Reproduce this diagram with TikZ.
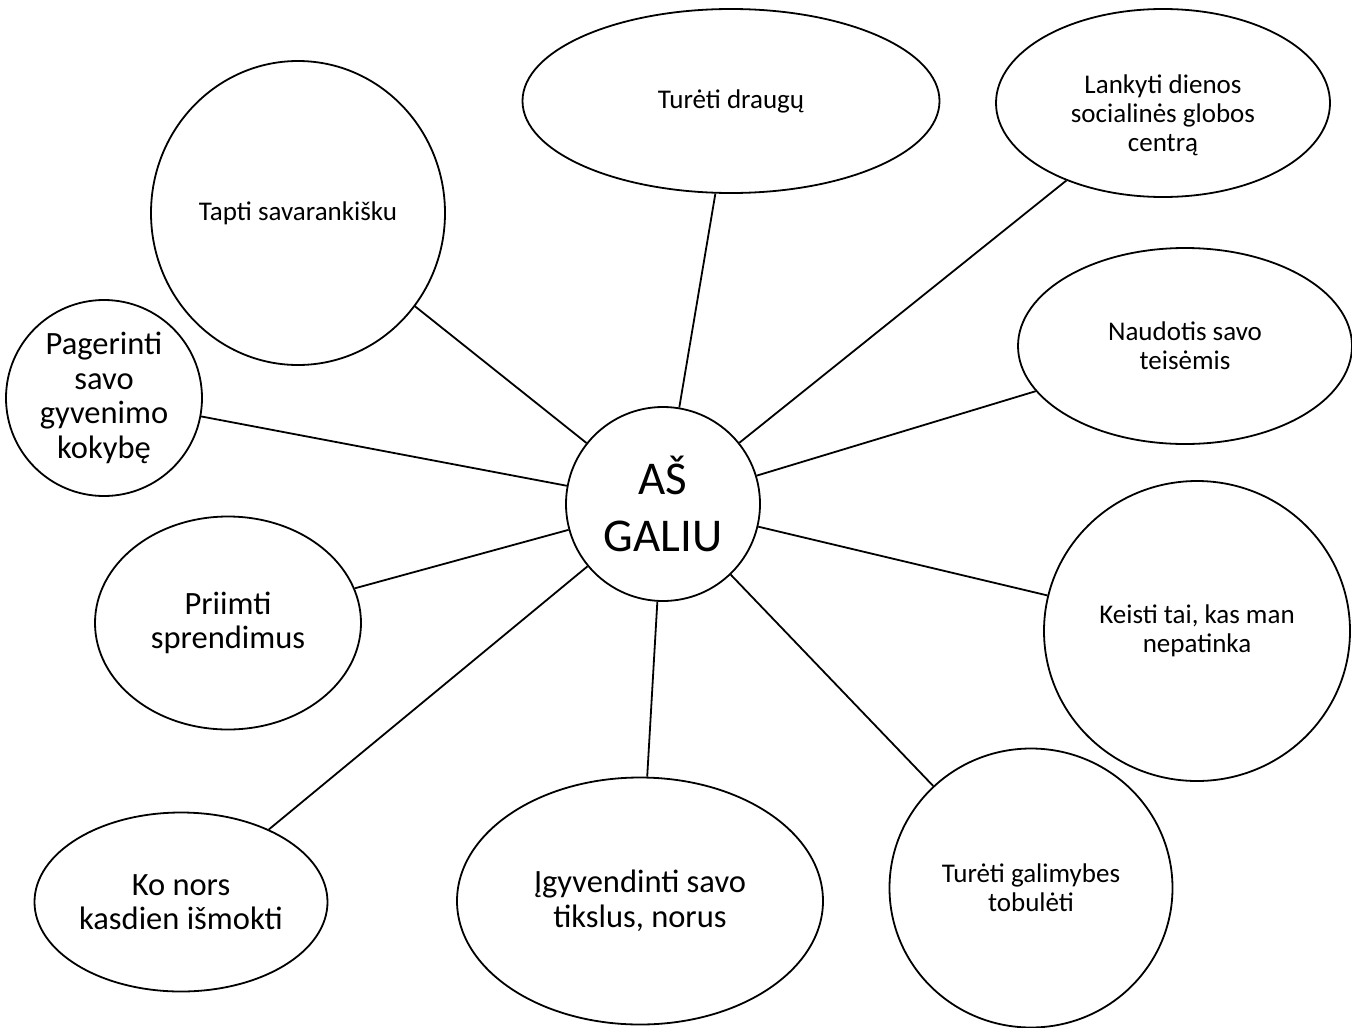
\documentclass[tikz,border=0pt]{standalone}
\usepackage{fontspec}
\setmainfont{Carlito}
\usetikzlibrary{shapes.geometric}

\tikzset{
  bub/.style={draw, ellipse, line width=1.8pt, inner sep=0pt, align=center},
  smalltxt/.style={font=\fontsize{27}{29}\selectfont},
  bigtxt/.style={font=\fontsize{32.5}{34.5}\selectfont},
  link/.style={line width=1.8pt}
}

\begin{document}
\begin{tikzpicture}[x=1pt, y=-1pt]
  \useasboundingbox (0,0) rectangle (1352,1028);

  % centras
  \node[bub, minimum size=194pt, font=\fontsize{47}{57}\selectfont] (as) at (663,504) {AŠ\\GALIU};

  % aplinkiniai burbulai
  \node[bub, smalltxt, minimum width=417pt, minimum height=184pt] (draugai) at (731,101) {Turėti draugų};
  \node[bub, minimum width=334pt, minimum height=188pt] (centras) at (1163,103) {};
  \node[smalltxt, align=center] (centrastxt) at (1163,115) {Lankyti dienos\\socialinės globos\\centrą};
  \node[bub, smalltxt, minimum width=294pt, minimum height=304pt] (savarank) at (298,213) {Tapti savarankišku};
  \node[bub, bigtxt, minimum size=196pt] (kokybe) at (104,398) {Pagerinti\\savo\\gyvenimo\\kokybę};
  \node[bub, smalltxt, minimum width=334pt, minimum height=196pt] (teises) at (1185,346) {Naudotis savo\\teisėmis};
  \node[bub, smalltxt, minimum width=306pt, minimum height=300pt] (keisti) at (1197,631) {Keisti tai, kas man\\nepatinka};
  \node[bub, bigtxt, minimum width=266pt, minimum height=213pt] (sprendimai) at (228,623) {Priimti\\sprendimus};
  \node[bub, bigtxt, minimum width=293pt, minimum height=179pt] (ismokti) at (181,902) {Ko nors\\kasdien išmokti};
  \node[bub, bigtxt, minimum width=366pt, minimum height=247pt] (tikslai) at (640,901) {Įgyvendinti savo\\tikslus, norus};
  \node[bub, smalltxt, minimum width=283pt, minimum height=279pt] (tobuleti) at (1031,888) {Turėti galimybes\\tobulėti};

  % jungtys
  \foreach \t in {draugai, centras, teises, keisti, tobuleti, tikslai, ismokti, sprendimai, kokybe, savarank}
    \draw[link] (as) -- (\t);
\end{tikzpicture}
\end{document}
